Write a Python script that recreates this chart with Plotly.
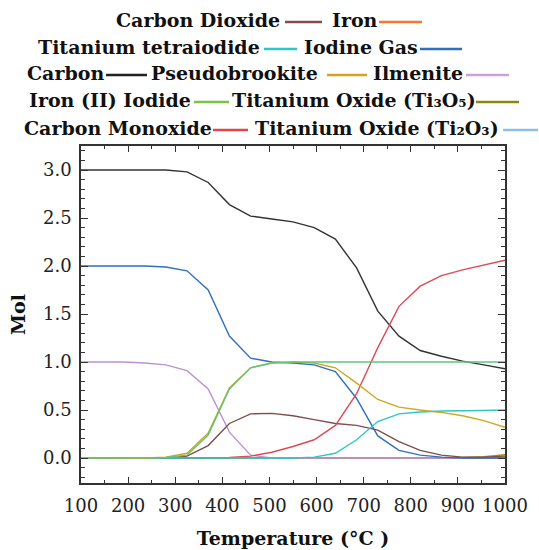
import plotly.graph_objects as go

temperature = [100, 145, 190, 235, 280, 325, 370, 415, 460, 505, 550,
               595, 640, 685, 730, 775, 820, 865, 910, 955, 1000]

carbon = [3.0, 3.0, 3.0, 3.0, 3.0, 2.98, 2.87, 2.64, 2.52, 2.49, 2.46,
          2.40, 2.28, 1.98, 1.53, 1.27, 1.12, 1.06, 1.01, 0.97, 0.93]
iodine_gas = [2.0, 2.0, 2.0, 2.0, 1.99, 1.95, 1.75, 1.27, 1.04, 1.0, 0.99,
              0.97, 0.90, 0.62, 0.23, 0.08, 0.03, 0.01, 0.0, 0.0, 0.0]
ilmenite = [1.0, 1.0, 1.0, 0.99, 0.97, 0.91, 0.72, 0.27, 0.03, 0.0, 0.0,
            0.0, 0.0, 0.0, 0.0, 0.0, 0.0, 0.0, 0.0, 0.0, 0.0]
pseudobrookite = [0.0, 0.0, 0.0, 0.0, 0.01, 0.05, 0.26, 0.73, 0.94, 0.99, 1.0,
                  0.99, 0.94, 0.78, 0.61, 0.53, 0.50, 0.475, 0.44, 0.39, 0.32]
iron_ii_iodide = [0.0, 0.0, 0.0, 0.0, 0.005, 0.03, 0.24, 0.72, 0.94, 0.99, 1.0,
                  1.0, 1.0, 1.0, 1.0, 1.0, 1.0, 1.0, 1.0, 1.0, 1.0]
carbon_dioxide = [0.0, 0.0, 0.0, 0.0, 0.0, 0.02, 0.13, 0.36, 0.46, 0.465, 0.44,
                  0.40, 0.36, 0.34, 0.29, 0.17, 0.08, 0.03, 0.01, 0.01, 0.02]
carbon_monoxide = [0.0, 0.0, 0.0, 0.0, 0.0, 0.0, 0.0, 0.005, 0.02, 0.06, 0.12,
                   0.19, 0.34, 0.67, 1.15, 1.58, 1.79, 1.90, 1.96, 2.01, 2.06]
titanium_tetraiodide = [0.0, 0.0, 0.0, 0.0, 0.0, 0.0, 0.0, 0.0, 0.0, 0.0, 0.0,
                        0.01, 0.05, 0.19, 0.38, 0.46, 0.48, 0.49, 0.49, 0.495, 0.5]
iron = [0.0] * 21
ti3o5 = [0.0, 0.0, 0.0, 0.0, 0.0, 0.0, 0.0, 0.0, 0.0, 0.0, 0.0,
         0.0, 0.0, 0.0, 0.0, 0.0, 0.0, 0.0, 0.005, 0.015, 0.035]
ti2o3 = [0.0] * 21

x_ticks = [100, 200, 300, 400, 500, 600, 700, 800, 900, 1000]
y_ticks = [0.0, 0.5, 1.0, 1.5, 2.0, 2.5, 3.0]

series = [
    ("Titanium Oxide (Ti₂O₃)", ti2o3, "#8fbfe6"),
    ("Iron", iron, "#f07a2e"),
    ("Titanium Oxide (Ti₃O₅)", ti3o5, "#9a9a18"),
    ("Ilmenite", ilmenite, "#bb92d8"),
    ("Carbon", carbon, "#333333"),
    ("Iodine Gas", iodine_gas, "#2f6fbf"),
    ("Carbon Dioxide", carbon_dioxide, "#7e4e4e"),
    ("Carbon Monoxide", carbon_monoxide, "#dc4a55"),
    ("Titanium tetraiodide", titanium_tetraiodide, "#2ec6c6"),
    ("Pseudobrookite", pseudobrookite, "#c9aa22"),
    ("Iron (II) Iodide", iron_ii_iodide, "#62c47e"),
]

fig = go.Figure()
for name, vals, col in series:
    fig.add_trace(go.Scatter(x=temperature, y=vals, mode="lines", name=name,
                             line=dict(color=col, width=1.4), showlegend=False))

# plot area in pixels
L, R, T, B = 81, 505, 146, 483
W, H = 539, 550


def px(x):
    return (x - L) / (R - L)


def py(y):
    return (B - y) / (B - T)


legend_items = [
    # text, color, text_left, line_x0, line_x1, row_y
    ("Carbon Dioxide", "#7e4e4e", 114, 285, 322, 20),
    ("Iron", "#f07a2e", 330, 379, 422, 20),
    ("Titanium tetraiodide", "#2ec6c6", 36, 264, 297, 47),
    ("Iodine Gas", "#2f6fbf", 302, 420, 462, 47),
    ("Carbon", "#222222", 25, 106, 147, 73),
    ("Pseudobrookite", "#d1a31f", 149, 327, 367, 73),
    ("Ilmenite", "#c9a2dc", 371, 466, 509, 73),
    ("Iron (II) Iodide", "#7dc242", 27, 194, 229, 100),
    ("Titanium Oxide (Ti₃O₅)", "#8a8a10", 230, 476, 519, 100),
    ("Carbon Monoxide", "#e04848", 22, 213, 248, 128),
    ("Titanium Oxide (Ti₂O₃)", "#8fbfe6", 253, 503, 538, 128),
]

lfont = dict(family="DejaVu Serif", size=19, color="#111111")
for text, col, tx, lx0, lx1, ry in legend_items:
    fig.add_annotation(x=px(tx), y=py(ry), xref="paper", yref="paper",
                       text="<b>" + text + "</b>", showarrow=False,
                       xanchor="left", yanchor="middle", font=lfont)
    fig.add_shape(type="line", xref="paper", yref="paper",
                  x0=px(lx0), x1=px(lx1), y0=py(ry + 2), y1=py(ry + 2),
                  line=dict(color=col, width=2.5))

tickfont = dict(family="DejaVu Serif", size=18, color="#222222")
fig.update_xaxes(range=[100, 1000], tickvals=x_ticks, ticks="inside", ticklen=6,
                 tickwidth=1.2, tickcolor="#333333", showline=True, linecolor="#333333",
                 linewidth=1.5, mirror="ticks", showgrid=False, zeroline=False,
                 minor=dict(dtick=50, ticks="inside", ticklen=3, tickcolor="#333333"),
                 tickfont=tickfont, ticklabelstandoff=6, automargin=False,
                 title=dict(text="<b>Temperature (°C )</b>", standoff=16,
                            font=dict(family="DejaVu Serif", size=19, color="#111111")))
fig.update_yaxes(range=[-0.26, 3.25], tickvals=y_ticks, tickformat=".1f",
                 ticks="inside", ticklen=7, tickwidth=1.2, tickcolor="#333333",
                 showline=True, linecolor="#333333", linewidth=1.5, mirror="ticks",
                 showgrid=False, zeroline=False,
                 minor=dict(dtick=0.1, ticks="inside", ticklen=4, tickcolor="#333333"),
                 tickfont=tickfont, ticklabelstandoff=4, automargin=False,
                 title=dict(text="<b>Mol</b>", standoff=12,
                            font=dict(family="DejaVu Serif", size=19, color="#111111")))

fig.update_layout(width=W, height=H, autosize=False,
                  margin=dict(l=L, r=W - R, t=T, b=H - B),
                  paper_bgcolor="white", plot_bgcolor="white")

fig.write_html("out.html")
